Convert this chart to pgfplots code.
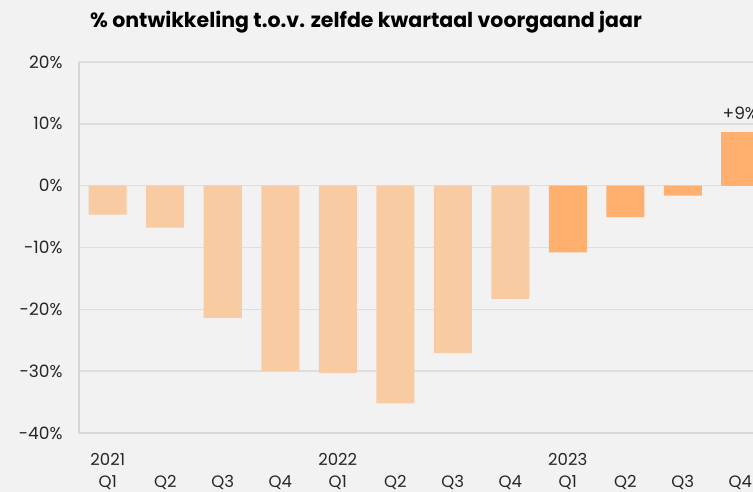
\documentclass[border=0pt]{standalone}
\usepackage{pgfplots}
\pgfplotsset{compat=1.18}
\usepackage{fontspec}
\setmainfont{Poppins}
\definecolor{bg}{HTML}{F2F2F2}
\definecolor{lightbar}{HTML}{F9CBA3}
\definecolor{darkbar}{HTML}{FFB06E}
\definecolor{gridc}{HTML}{DEDEDE}
\definecolor{axc}{HTML}{D6D6D6}
\newcommand{\ph}{\phantom{2021}}
\begin{document}
\begin{tikzpicture}
\clip (-79pt,-59pt) rectangle (674pt,433pt);
\fill[bg] (-79pt,-59pt) rectangle (674pt,433pt);
\begin{axis}[
  at={(0pt,0pt)}, anchor=south west,
  scale only axis, width=690pt, height=371pt,
  xmin=-0.5, xmax=11.5, ymin=-40, ymax=20,
  ybar, bar width=38pt,
  axis x line=bottom, axis y line=left,
  axis line style={axc, line width=1.5pt, -},
  ytick={-40,-30,...,20},
  ymajorgrids, grid style={gridc, line width=1.5pt},
  xtick={0,...,11},
  xticklabels={{2021\\Q1},{\ph\\Q2},{\ph\\Q3},{\ph\\Q4},{2022\\Q1},{\ph\\Q2},{\ph\\Q3},{\ph\\Q4},{2023\\Q1},{\ph\\Q2},{\ph\\Q3},{\ph\\Q4}},
  xticklabel style={align=center, font=\fontsize{16.5}{22}\selectfont, text=black!85, anchor=north, yshift=-17pt},
  yticklabel={\pgfmathprintnumber{\tick}\%},
  /pgf/number format/assume math mode=true,
  yticklabel style={font=\fontsize{17}{20}\selectfont, text=black!85, xshift=-13pt},
  major tick length=0pt,
  clip=false,
]
\addplot[fill=lightbar, draw=none, bar shift=0pt] coordinates {
  (0,-4.7) (1,-6.8) (2,-21.4) (3,-30.0) (4,-30.3) (5,-35.2) (6,-27.1) (7,-18.3)};
\addplot[fill=darkbar, draw=none, bar shift=0pt] coordinates {
  (8,-10.8) (9,-5.1) (10,-1.6)};
\addplot[fill=darkbar, draw=none, bar shift=0pt,
  nodes near coords={+9\%},
  every node near coord/.append style={font=\fontsize{17}{20}\selectfont, text=black!85, yshift=9pt}] coordinates {
  (11,8.6)};
\end{axis}
\node[font=\bfseries\fontsize{20.5}{24}\selectfont, anchor=center] at (287pt,411pt) {\% ontwikkeling t.o.v. zelfde kwartaal voorgaand jaar};
\end{tikzpicture}
\end{document}
